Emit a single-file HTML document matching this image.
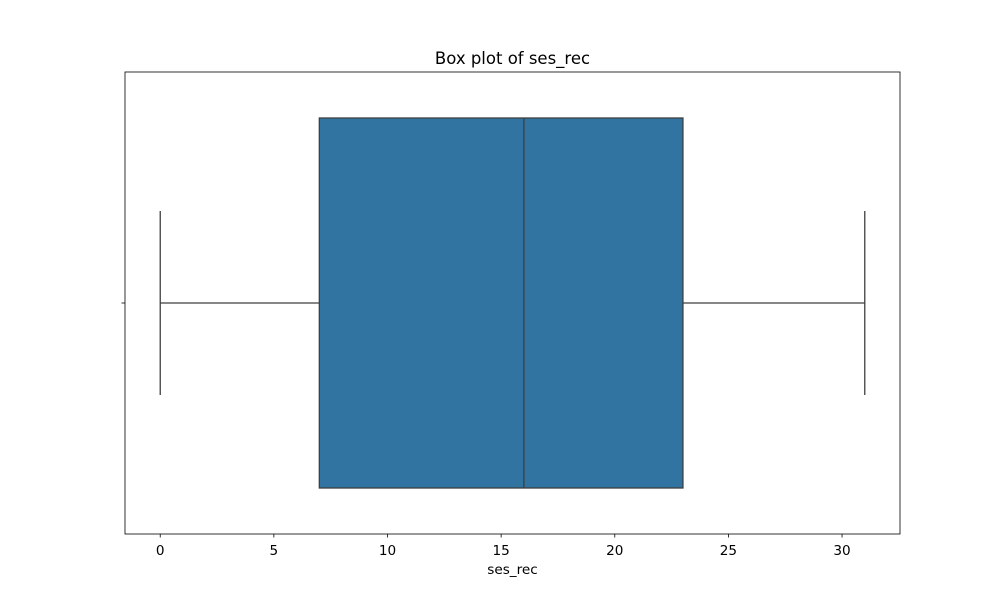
<!DOCTYPE html>
<html><head><meta charset="utf-8"><style>
body{margin:0;background:#fff;font-family:"DejaVu Sans","Liberation Sans",sans-serif}
</style></head><body>
<svg id="chart" width="1000" height="600" xmlns="http://www.w3.org/2000/svg"></svg>
<script>
const tickValues=[0,5,10,15,20,25,30];
const tickLabels=["0","5","10","15","20","25","30"];
const whiskerLow=[0];
const q1=[7];
const median=[16];
const q3=[23];
const whiskerHigh=[31];

const svg=document.getElementById('chart');
const NS='http://www.w3.org/2000/svg';
const L=125,R=900,T=72,B=534,xmin=-1.55,xmax=32.55;
const x=v=>L+(v-xmin)/(xmax-xmin)*(R-L);
const cy=(T+B)/2;
function mk(tag,attrs,text){const e=document.createElementNS(NS,tag);for(const k in attrs)e.setAttribute(k,attrs[k]);if(text!==undefined)e.textContent=text;svg.appendChild(e);return e;}
const title=mk('text',{x:(L+R)/2,y:64,'text-anchor':'middle','font-size':'16.5',fill:'#000'},'Box plot of ses_rec');


const lc='#3f3f3f';
const wl=mk('line',{x1:x(whiskerLow[0]),x2:x(q1[0]),y1:cy,y2:cy,stroke:lc,'stroke-width':1.3});


const wh=mk('line',{x1:x(q3[0]),x2:x(whiskerHigh[0]),y1:cy,y2:cy,stroke:lc,'stroke-width':1.3});


const cl=mk('line',{x1:x(whiskerLow[0]),x2:x(whiskerLow[0]),y1:211,y2:395,stroke:lc,'stroke-width':1.3});


const ch=mk('line',{x1:x(whiskerHigh[0]),x2:x(whiskerHigh[0]),y1:211,y2:395,stroke:lc,'stroke-width':1.3});


const box=mk('rect',{x:x(q1[0]),y:118,width:x(q3[0])-x(q1[0]),height:370,fill:'#3274a1',stroke:lc,'stroke-width':1.3});


const med=mk('line',{x1:x(median[0]),x2:x(median[0]),y1:118,y2:488,stroke:lc,'stroke-width':1.3});


const frame=mk('rect',{x:L,y:T,width:R-L,height:B-T,fill:'none',stroke:'#000','stroke-width':0.8});


const yt=mk('line',{x1:L-3.5,x2:L,y1:cy,y2:cy,stroke:'#000','stroke-width':0.8});


tickValues.forEach((v,i)=>{
  const t=mk('line',{x1:x(v),x2:x(v),y1:B,y2:B+3.5,stroke:'#000','stroke-width':0.8});
  
  
  const l=mk('text',{x:x(v),y:B+21,'text-anchor':'middle','font-size':'13.6',fill:'#000'},tickLabels[i]);
  
  
});
const xl=mk('text',{x:(L+R)/2,y:574,'text-anchor':'middle','font-size':'13.6',fill:'#000'},'ses_rec');


</script>
</body></html>
